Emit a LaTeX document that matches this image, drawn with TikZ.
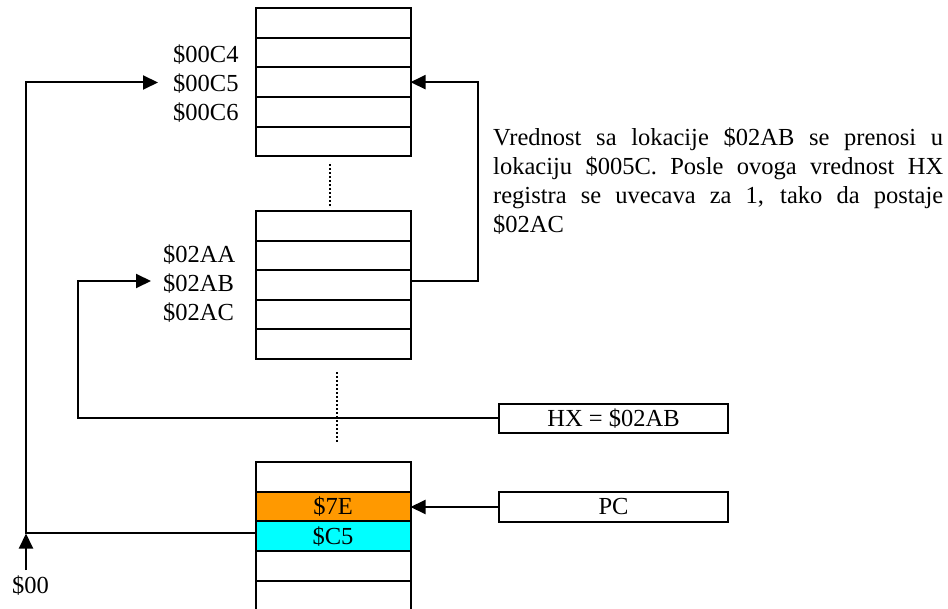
\documentclass[tikz,border=0pt]{standalone}
\usepackage{fontspec}
\setmainfont{Liberation Serif}
\usetikzlibrary{arrows.meta}
\definecolor{memorange}{RGB}{255,153,0}
\definecolor{memcyan}{RGB}{0,255,255}
\begin{document}
\begin{tikzpicture}[x=1pt,y=-1pt,
  every node/.style={font=\fontsize{24.5}{29}\selectfont},
  cell/.style={draw, line width=2pt, minimum width=155pt, minimum height=29.65pt, outer sep=0pt, inner sep=0pt},
  reg/.style={draw, line width=1.8pt, minimum width=229pt, minimum height=29.5pt, outer sep=0pt, inner sep=0pt},
  conn/.style={line width=2pt},
  arr/.style={conn, -{Triangle[length=15pt,width=14pt]}},
  dots/.style={line width=1.6pt, dash pattern=on 1.6pt off 2.4pt},
  addr/.style={anchor=base west, inner sep=0pt}]
\useasboundingbox (0,0) rectangle (948,609);

% top memory block
\node[cell] (t1) at (333,22.8) {};
\node[cell] (t2) at (333,52.5) {};
\node[cell] (t3) at (333,82.15) {};
\node[cell] (t4) at (333,111.8) {};
\node[cell] (t5) at (333,141.5) {};

% middle memory block
\node[cell] (m1) at (333,225.8) {};
\node[cell] (m2) at (333,255.4) {};
\node[cell] (m3) at (333,285) {};
\node[cell] (m4) at (333,314.6) {};
\node[cell] (m5) at (333,344.2) {};

% bottom memory block
\node[cell] (b1) at (333,476.9) {};
\node[cell, fill=memorange] (b2) at (333,506.6) {\$7E};
\node[cell, fill=memcyan] (b3) at (333,536.2) {\$C5};
\node[cell] (b4) at (333,565.9) {};
\draw[line width=2pt] (b4.south west) -- ++(0,32);
\draw[line width=2pt] (b4.south east) -- ++(0,32);

% address labels
\node[addr] (a4) at (173,62.7) {\$00C4};
\node[addr] (a5) at (173,91.7) {\$00C5};
\node[addr] (a6) at (173,120.7) {\$00C6};
\node[addr] (aa) at (163,262.3) {\$02AA};
\node[addr] (ab) at (163,291.7) {\$02AB};
\node[addr] (ac) at (163,320.7) {\$02AC};

% registers
\node[reg] (hx) at (613.5,418.5) {HX = \$02AB};
\node[reg] (pc) at (613.5,507) {PC};

% note
\node[anchor=base west, text width=450pt, align=justify, inner sep=0pt] (note) at (493,145.5)
  {Vrednost sa lokacije \$02AB se prenosi u\linebreak lokaciju \$005C. Posle ovoga vrednost HX\linebreak registra se uvecava za 1, tako da postaje\linebreak \$02AC};

% $00 label
\node[anchor=base, inner sep=0pt] (z) at (30.5,593) {\$00};

% dotted continuation lines
\draw[dots] ([xshift=-3pt,yshift=-8pt]t5.south) -- ([xshift=-3pt,yshift=3pt]m1.north);
\draw[dots] ([xshift=4pt,yshift=-13pt]m5.south) -- ([xshift=4pt,yshift=19pt]b1.north);

% coordinates for connector corners and tips
\coordinate (c1) at (26,82.5);
\coordinate (tip1) at (158,82.5);
\coordinate (c2) at (78,281);
\coordinate (tip2) at (151,281);
\coordinate (c3) at (478,281);
\coordinate (zs) at (26,570);
\coordinate (ze) at (26,533.5);

% connectors
\draw[arr] ([yshift=3pt]b3.west) -| (c1) -- (tip1);
\draw[arr] (hx.west) -| (c2) -- (tip2);
\draw[arr] ([yshift=4pt]m3.east) -- (c3) |- (t3.east);
\draw[arr] (pc.west) -- (b2.east |- pc.west);
\draw[arr] (zs) -- (ze);
\end{tikzpicture}
\end{document}
